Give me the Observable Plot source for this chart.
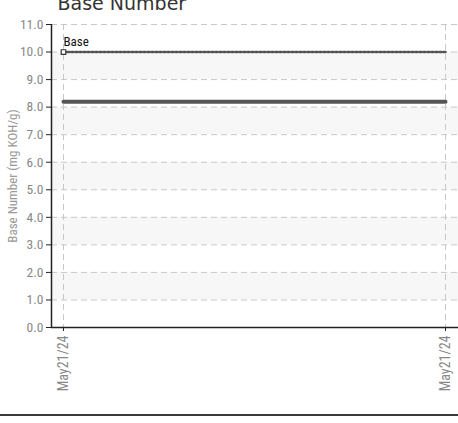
<!DOCTYPE html>
<html><head><meta charset="utf-8">
<script src="https://cdn.jsdelivr.net/npm/d3@7"></script>
<script src="https://cdn.jsdelivr.net/npm/@observablehq/plot@0.6"></script>
<style>
body{margin:0;background:#fff;overflow:hidden;width:458px;height:423px}
#chart svg{display:block}
#rule{height:2px;background:#3a3a3a;width:458px;margin-top:1px}
</style>
</head><body>
<div id="chart"></div>
<div id="rule"></div>
<script>
const title = "Base Number";
const yLabel = "Base Number (mg KOH/g)";
const xIndex = [0, 1];
const xLabels = ["May21/24", "May21/24"];
const baseNumber = [8.2, 8.2];
const baseLimit = [10.0, 10.0];
const baseLimitLabel = "Base";
const yTicks = [0, 1, 2, 3, 4, 5, 6, 7, 8, 9, 10, 11];
const bandLow = [1, 3, 5, 7, 9];
const bandHigh = [2, 4, 6, 8, 10];

const xDomain = [-0.0314, 1.034];
const lineData = xIndex.map((x, i) => ({x, v: baseNumber[i]}));
const limitData = xIndex.map((x, i) => ({x, v: baseLimit[i]}));
const bands = bandLow.map((lo, i) => ({lo, hi: bandHigh[i]}));
const font = "'Liberation Sans Narrow', 'Roboto Condensed', Roboto, sans-serif";

const chart = Plot.plot({
  width: 458,
  height: 413,
  marginLeft: 51,
  marginRight: 0,
  marginTop: 24,
  marginBottom: 86,
  style: {fontFamily: font, background: "#fff", overflow: "hidden"},
  x: {type: "linear", domain: xDomain},
  y: {domain: [0, 11]},
  marks: [
    Plot.rect(bands, {y1: "lo", y2: "hi", fill: "#f7f7f7"}),
    Plot.gridY(yTicks, {stroke: "#c8c8c8", strokeOpacity: 1, strokeDasharray: "6,4"}),
    Plot.gridX(xIndex, {stroke: "#c8c8c8", strokeOpacity: 1, strokeDasharray: "6,4"}),
    Plot.axisY(yTicks, {tickFormat: d => d.toFixed(1), tickSize: 5, tickPadding: 3, fontSize: 13.5, stroke: "#222", fill: "#888", label: null}),
    Plot.axisX(xIndex, {tickFormat: i => xLabels[i], tickSize: 4, tickPadding: 4, tickRotate: -90, fontSize: 14, stroke: "#222", fill: "#888", label: null}),
    Plot.ruleX([xDomain[0]], {stroke: "#222", strokeWidth: 1.5}),
    Plot.ruleY([0], {stroke: "#222", strokeWidth: 1.5}),
    Plot.line(limitData, {x: "x", y: "v", stroke: "#555", strokeWidth: 2.5, strokeDasharray: "2,2"}),
    Plot.line(lineData, {x: "x", y: "v", stroke: "#555", strokeWidth: 4}),
    Plot.dot([limitData[0]], {x: "x", y: "v", symbol: "square", r: 2.6, fill: "#fff", stroke: "#333", strokeWidth: 1.2}),
    Plot.text([limitData[0]], {x: "x", y: "v", text: () => baseLimitLabel, textAnchor: "start", dy: -10, fontSize: 13, fill: "#111"}),
    Plot.text([yLabel], {frameAnchor: "left", dx: -39, rotate: -90, textAnchor: "middle", fontSize: 13, fill: "#999"}),
    Plot.text([title], {frameAnchor: "top-left", dx: 6, dy: -28, textAnchor: "start", fontSize: 19, fill: "#333", fontFamily: "'DejaVu Sans', sans-serif"})
  ]
});
document.getElementById("chart").appendChild(chart);
</script>
</body></html>
